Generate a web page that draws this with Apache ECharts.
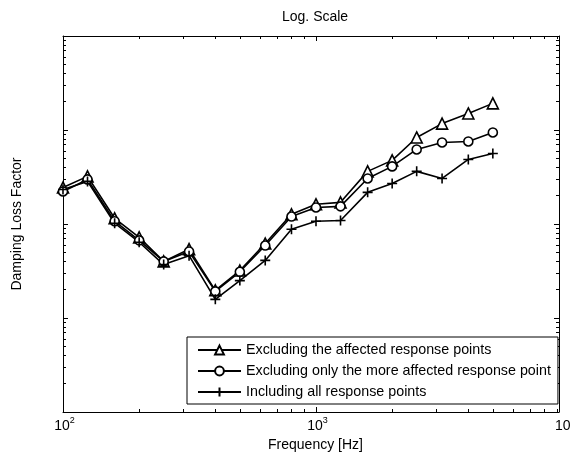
<!DOCTYPE html>
<html><head><meta charset="utf-8">
<script src="https://cdn.jsdelivr.net/npm/echarts@6/dist/echarts.min.js"></script>
<style>html,body{margin:0;padding:0;background:#fff}#c{width:572px;height:457px}</style>
</head><body><div id="c"></div>
<script>
const FONT = "'Liberation Sans', Arial, sans-serif";
const freqs = [100,125,160,200,250,315,400,500,630,800,1000,1250,1600,2000,2500,3150,4000,5000];
const excludingAffected     = [0.0245,0.0321,0.0115,0.0072,0.0040,0.0054,0.00197,0.0032,0.0062,0.0127,0.0162,0.0170,0.0363,0.0475,0.0833,0.117,0.150,0.192];
const excludingMoreAffected = [0.0222,0.0298,0.0107,0.0067,0.0040,0.0051,0.00192,0.0031,0.0059,0.0120,0.0150,0.0154,0.0305,0.0410,0.0621,0.0737,0.0755,0.0941];
const includingAll          = [0.0233,0.0284,0.0102,0.0064,0.0037,0.0046,0.00158,0.0025,0.0041,0.0088,0.0107,0.0109,0.0217,0.0270,0.0363,0.0305,0.0486,0.0563];
const seriesNames = ['Excluding the affected response points','Excluding only the more affected response point','Including all response points'];
const xMajorTicks = [100,1000];
const xMinorTicks = [200,300,400,500,600,700,800,900,2000,3000,4000,5000,6000,7000,8000,9000];
const yMajorTicks = [0.001,0.01,0.1];
const yMinorTicks = [];
[0.0001,0.001,0.01,0.1].forEach(d=>{for(let k=2;k<=9;k++) yMinorTicks.push(+(d*k).toPrecision(3));});
const xLabelExp = {100:'2',1000:'3'};
const X_MIN=100, X_MAX=9130, Y_MIN=0.0001, Y_MAX=1;

function xAxis(pos, ticks, len, main){
  return {type:'log', logBase:10, min:X_MIN, max:X_MAX, position:pos, gridIndex:0,
    axisLine:{show:main, onZero:false, lineStyle:{color:'#000',width:1}},
    axisTick:{show:true, inside:true, length:len, customValues:ticks, lineStyle:{color:'#000',width:1}},
    axisLabel:(main&&pos==='bottom')?{show:true, customValues:xMajorTicks, margin:4, color:'#000',
      formatter:v=>'{b|10}{s|'+xLabelExp[Math.round(v)]+'}',
      rich:{b:{fontSize:14,fontFamily:FONT,color:'#000',lineHeight:17,verticalAlign:'bottom',padding:[0,0,0,3]},
            s:{fontSize:9,fontFamily:FONT,color:'#000',verticalAlign:'top',lineHeight:17}}}:{show:false},
    splitLine:{show:false}, minorTick:{show:false},
    name:(main&&pos==='bottom')?'Frequency [Hz]':'', nameLocation:'middle', nameGap:22,
    nameTextStyle:{fontSize:14,fontFamily:FONT,color:'#000',padding:[0,0,0,9]}};
}
function yAxis(pos, ticks, len, main){
  return {type:'log', logBase:10, min:Y_MIN, max:Y_MAX, position:pos, gridIndex:0,
    axisLine:{show:main, onZero:false, lineStyle:{color:'#000',width:1}},
    axisTick:{show:true, inside:true, length:len, customValues:ticks, lineStyle:{color:'#000',width:1}},
    axisLabel:{show:false}, splitLine:{show:false}, minorTick:{show:false},
    name:(main&&pos==='left')?'Damping Loss Factor':'', nameLocation:'middle', nameGap:39,
    nameTextStyle:{fontSize:14,fontFamily:FONT,color:'#000'}};
}
const plusPath = 'path://M5,0L5,10M0,5L10,5';
const chart = echarts.init(document.getElementById('c'), null, {renderer:'canvas'});
chart.setOption({
  animation:false,
  backgroundColor:'#fff',
  title:{text:'Log. Scale', left:282, top:10, padding:0,
    textStyle:{fontSize:14,fontWeight:'normal',fontFamily:FONT,color:'#000'}},
  grid:{left:63, top:36, width:496, height:376, containLabel:false},
  xAxis:[xAxis('bottom',xMajorTicks,5,true), xAxis('bottom',xMinorTicks,3,false),
         xAxis('top',xMajorTicks,5,true), xAxis('top',xMinorTicks,3,false)],
  yAxis:[yAxis('left',yMajorTicks,5,true), yAxis('left',yMinorTicks,3,false),
         yAxis('right',yMajorTicks,5,true), yAxis('right',yMinorTicks,3,false)],
  legend:{orient:'vertical', left:187, top:337, itemWidth:43, itemHeight:11, itemGap:7,
    padding:[6,7,5,10], borderColor:'#000', borderWidth:1, borderRadius:0, backgroundColor:'#fff',
    textStyle:{fontSize:14.3,fontFamily:FONT,color:'#000'}, data:seriesNames},
  graphic:[{type:'text', left:555, top:419, style:{text:'10', fontSize:14, fontFamily:FONT, fill:'#000'}}],
  series:[
    {name:seriesNames[0], type:'line', xAxisIndex:0, yAxisIndex:0, data:freqs.map((f,i)=>[f,excludingAffected[i]]),
     symbol:'triangle', symbolSize:11, showAllSymbol:true,
     lineStyle:{color:'#000',width:1.6}, itemStyle:{color:'#fff',borderColor:'#000',borderWidth:1.6}},
    {name:seriesNames[1], type:'line', xAxisIndex:0, yAxisIndex:0, data:freqs.map((f,i)=>[f,excludingMoreAffected[i]]),
     symbol:'circle', symbolSize:9, showAllSymbol:true,
     lineStyle:{color:'#000',width:1.6}, itemStyle:{color:'#fff',borderColor:'#000',borderWidth:1.6}},
    {name:seriesNames[2], type:'line', xAxisIndex:0, yAxisIndex:0, data:freqs.map((f,i)=>[f,includingAll[i]]),
     symbol:plusPath, symbolSize:10, showAllSymbol:true,
     lineStyle:{color:'#000',width:1.6}, itemStyle:{color:'#000',borderColor:'#000',borderWidth:1.6}}
  ]
});
</script></body></html>
